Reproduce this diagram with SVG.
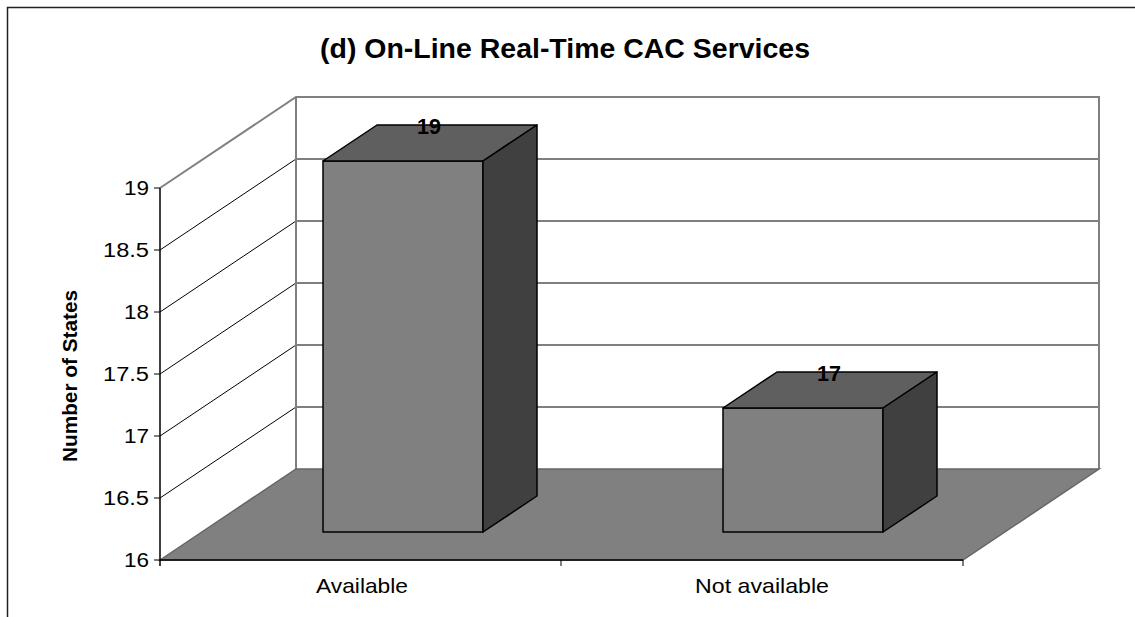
<svg xmlns="http://www.w3.org/2000/svg" width="1135" height="617" viewBox="0 0 1135 617">
<style>
.t{font-family:"Liberation Sans",Arial,sans-serif;fill:#000}
.tick{font-size:20px;text-anchor:end}
.cat{font-size:21px;text-anchor:middle}
.val{font-size:22px;font-weight:bold;text-anchor:middle}
.grid{stroke:#000;stroke-width:1;fill:none}
.wall{stroke:#808080;stroke-width:2;fill:none}
.front{fill:#808080;stroke:#000;stroke-width:1.5;stroke-linejoin:round}
.top{fill:#5f5f5f;stroke:#000;stroke-width:1.5;stroke-linejoin:round}
.side{fill:#404040;stroke:#000;stroke-width:1.5;stroke-linejoin:round}
</style>
<rect x="0" y="0" width="1135" height="617" fill="#fff"/>
<path d="M7.5,617 V7.5 H1135" fill="none" stroke="#222" stroke-width="1.5"/>
<text id="title" class="t" x="565" y="58" font-size="27" font-weight="bold" text-anchor="middle" textLength="490" lengthAdjust="spacingAndGlyphs">(d) On-Line Real-Time CAC Services</text>
<g id="walls">
<polygon points="296,97 1099,97 1099,469 296,469" fill="#fff"/>
<polygon points="160,188 296,97 296,469 160,560" fill="#fff"/>
<g class="grid">
<path d="M160,498 L296,407 H1099"/>
<path d="M160,436 L296,345 H1099"/>
<path d="M160,374 L296,283 H1099"/>
<path d="M160,312 L296,221 H1099"/>
<path d="M160,250 L296,159 H1099"/>
</g>
<path class="wall" d="M160,188 L296,97 H1099 V469 M296,97 V469"/>
</g>
<g id="floor">
<polygon points="160,560 296,469 1099,469 963,560" fill="#808080" stroke="#666" stroke-width="1.5"/>
</g>
<g id="axes">
<path d="M160,188 V566 M160,560 H963" stroke="#000" stroke-width="1.5" fill="none"/>
<path d="M154,188 H160 M154,250 H160 M154,312 H160 M154,374 H160 M154,436 H160 M154,498 H160 M154,560 H160 M561,560 V566 M963,560 V566" stroke="#000" stroke-width="1" fill="none"/>
<g class="t tick">
<text x="149" y="195" textLength="25" lengthAdjust="spacingAndGlyphs">19</text>
<text x="149" y="257" textLength="46" lengthAdjust="spacingAndGlyphs">18.5</text>
<text x="149" y="319" textLength="25" lengthAdjust="spacingAndGlyphs">18</text>
<text x="149" y="381" textLength="46" lengthAdjust="spacingAndGlyphs">17.5</text>
<text x="149" y="443" textLength="25" lengthAdjust="spacingAndGlyphs">17</text>
<text x="149" y="505" textLength="46" lengthAdjust="spacingAndGlyphs">16.5</text>
<text x="149" y="567" textLength="25" lengthAdjust="spacingAndGlyphs">16</text>
</g>
<text class="t" transform="translate(77,376) rotate(-90)" font-size="20" font-weight="bold" text-anchor="middle" textLength="172" lengthAdjust="spacingAndGlyphs">Number of States</text>
<text class="t cat" x="362" y="593" textLength="92" lengthAdjust="spacingAndGlyphs">Available</text>
<text class="t cat" x="762" y="593" textLength="134" lengthAdjust="spacingAndGlyphs">Not available</text>
</g>
<g id="bar-available">
<polygon class="front" points="323,161 483,161 483,532 323,532"/>
<polygon class="top" points="323,161 377,125 537,125 483,161"/>
<polygon class="side" points="483,161 537,125 537,496 483,532"/>
<text class="t val" x="429" y="134" textLength="24" lengthAdjust="spacingAndGlyphs">19</text>
</g>
<g id="bar-not-available">
<polygon class="front" points="723,408 883,408 883,532 723,532"/>
<polygon class="top" points="723,408 777,372 937,372 883,408"/>
<polygon class="side" points="883,408 937,372 937,496 883,532"/>
<text class="t val" x="829" y="381" textLength="24" lengthAdjust="spacingAndGlyphs">17</text>
</g>
</svg>
